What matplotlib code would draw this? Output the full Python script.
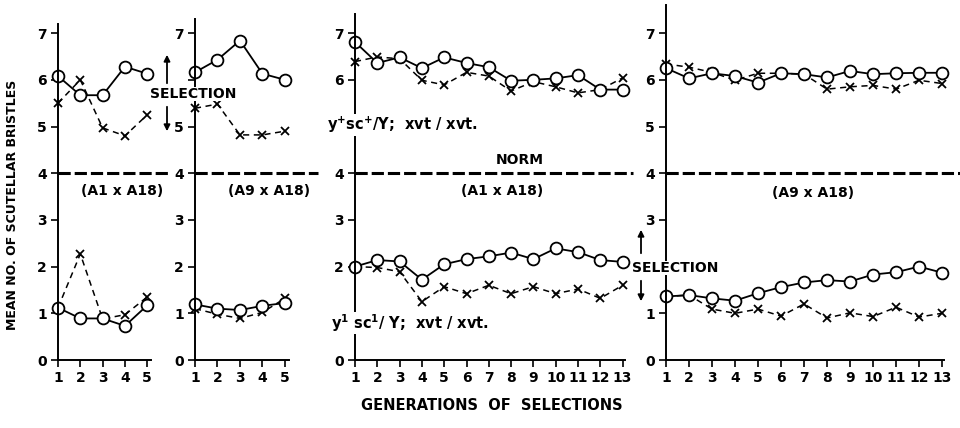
import numpy as np
import matplotlib
matplotlib.use('Agg')
import matplotlib.pyplot as plt

# generations
gen_short = [1, 2, 3, 4, 5]
gen_long = list(range(1, 14))

# panel 1 (A1 x A18), 5 generations
p1_up_o = [6.08, 5.67, 5.67, 6.28, 6.13]
p1_up_x = [5.50, 6.00, 4.97, 4.80, 5.25]
p1_lo_o = [1.12, 0.89, 0.89, 0.73, 1.17]
p1_lo_x = [1.12, 2.27, 0.88, 0.97, 1.35]

# panel 2 (A9 x A18), 5 generations
p2_up_o = [6.16, 6.43, 6.84, 6.13, 6.00]
p2_up_x = [5.39, 5.48, 4.82, 4.82, 4.90]
p2_lo_o = [1.19, 1.10, 1.07, 1.16, 1.22]
p2_lo_x = [1.10, 0.98, 0.89, 1.02, 1.32]

# panel 3 (A1 x A18), 13 generations
p3_up_o = [6.81, 6.36, 6.48, 6.25, 6.48, 6.36, 6.27, 5.98, 6.00, 6.03, 6.10, 5.79, 5.79]
p3_up_x = [6.39, 6.49, 6.45, 5.99, 5.89, 6.16, 6.08, 5.76, 5.96, 5.85, 5.72, 5.79, 6.04]
p3_lo_o = [2.00, 2.14, 2.11, 1.72, 2.05, 2.16, 2.22, 2.30, 2.16, 2.39, 2.31, 2.14, 2.10]
p3_lo_x = [2.00, 1.98, 1.89, 1.25, 1.57, 1.42, 1.60, 1.42, 1.57, 1.42, 1.52, 1.32, 1.60]

# panel 4 (A9 x A18), 13 generations
p4_up_o = [6.25, 6.03, 6.14, 6.08, 5.94, 6.14, 6.12, 6.05, 6.19, 6.12, 6.14, 6.15, 6.15]
p4_up_x = [6.34, 6.27, 6.16, 5.99, 6.14, 6.14, 6.12, 5.80, 5.85, 5.88, 5.80, 5.99, 5.92]
p4_lo_o = [1.36, 1.39, 1.32, 1.27, 1.43, 1.56, 1.66, 1.71, 1.68, 1.83, 1.88, 2.00, 1.87]
p4_lo_x = [1.36, 1.39, 1.09, 1.00, 1.09, 0.94, 1.20, 0.90, 1.01, 0.93, 1.13, 0.92, 1.00]

norm_level = 4
y_ticks = list(range(0, 8))

W, H = 960, 428
fig = plt.figure(figsize=(W / 100, H / 100), dpi=100)
plt.rcParams['font.family'] = 'DejaVu Sans'

y0_px = 360          # pixel row of value 0
unit_px = 46.7       # pixels per bristle
y_top = 7.6


def make_axes(left_px, right_px, xmax, spine_end, spine_top, ticks, line_end, hide=()):
    bottom = (H - y0_px) / H
    height = y_top * unit_px / H
    ax = fig.add_axes([left_px / W, bottom, (right_px - left_px) / W, height])
    ax.set_xlim(1, xmax)
    ax.set_ylim(0, y_top)
    for s in ('top', 'right'):
        ax.spines[s].set_visible(False)
    ax.spines['left'].set_bounds(0, spine_top)
    ax.spines['bottom'].set_bounds(1, spine_end)
    ax.spines['left'].set_linewidth(1.4)
    ax.spines['bottom'].set_linewidth(1.4)
    ax.set_xticks(ticks)
    ax.set_yticks(y_ticks)
    ax.set_yticklabels(['' if t in hide else str(t) for t in y_ticks])
    ax.tick_params(direction='out', length=5, width=1.2, labelsize=10, pad=3)
    for lab in ax.get_xticklabels() + ax.get_yticklabels():
        lab.set_fontweight('bold')
    ax.patch.set_visible(False)
    ax.plot([1, line_end], [norm_level, norm_level], color='black', lw=2.2,
            dashes=(4, 1.3), clip_on=False)
    return ax


def draw_series(ax, x, o_vals, x_vals):
    ax.plot(x, x_vals, color='black', lw=1.1, ls=(0, (4, 3)), marker='x',
            ms=6, mew=1.3, clip_on=False)
    ax.plot(x, o_vals, color='black', lw=1.3, marker='o', ms=8.5, mfc='white',
            mew=1.3, clip_on=False)


ax1 = make_axes(58, 170, 6.02, 5.15, 7.2, gen_short, 5.95)
draw_series(ax1, gen_short, p1_up_o, p1_up_x)
draw_series(ax1, gen_short, p1_lo_o, p1_lo_x)

ax2 = make_axes(195, 320, 6.56, 5.2, 7.3, gen_short, 6.45, hide=(6,))
draw_series(ax2, gen_short, p2_up_o, p2_up_x)
draw_series(ax2, gen_short, p2_lo_o, p2_lo_x)

ax3 = make_axes(355, 640, 13.78, 13.1, 7.4, gen_long, 13.45, hide=(5, 1))
draw_series(ax3, gen_long, p3_up_o, p3_up_x)
draw_series(ax3, gen_long, p3_lo_o, p3_lo_x)

ax4 = make_axes(666, 960, 13.78, 13.1, 7.6, gen_long, 13.78, hide=(2,))
draw_series(ax4, gen_long, p4_up_o, p4_up_x)
draw_series(ax4, gen_long, p4_lo_o, p4_lo_x)


def ftext(x, y, s, bg=False, **kw):
    t = fig.text(x / W, 1 - y / H, s, zorder=10, **kw)
    if bg:
        t.set_bbox(dict(facecolor='white', edgecolor='none', pad=0.3))
    return t


def farrow(x, y_from, y_to):
    fig.add_artist(matplotlib.patches.FancyArrowPatch(
        (x / W, 1 - y_from / H), (x / W, 1 - y_to / H),
        transform=fig.transFigure, arrowstyle='-|>', mutation_scale=9,
        lw=1.3, color='black'))


bold = dict(fontweight='bold', ha='center', va='center')

ftext(13, 205, 'MEAN NO. OF SCUTELLAR BRISTLES', rotation=90, fontsize=9, **bold)
ftext(492, 405, 'GENERATIONS  OF  SELECTIONS', fontsize=10.5, **bold)

ftext(193, 94, 'SELECTION', bg=True, fontsize=10, **bold)
farrow(167, 86, 52)
farrow(167, 104, 134)

ftext(122, 191, '(A1 x A18)', fontsize=10, **bold)
ftext(269, 191, '(A9 x A18)', fontsize=10, **bold)
ftext(520, 160, 'NORM', fontsize=10, **bold)
ftext(502, 191, '(A1 x A18)', fontsize=10, **bold)
ftext(813, 193, '(A9 x A18)', fontsize=10, **bold)

ftext(327, 125, r'y$^{\mathbf{+}}$sc$^{\mathbf{+}}$/Y;  xvt / xvt.', bg=True,
      fontsize=10.5, fontweight='bold', ha='left', va='center')
ftext(331, 323, r'y$^{\mathbf{1}}$ sc$^{\mathbf{1}}$/ Y;  xvt / xvt.', bg=True,
      fontsize=10.5, fontweight='bold', ha='left', va='center')

ftext(675, 268, 'SELECTION', bg=True, fontsize=10, **bold)
farrow(641, 256, 227)
farrow(641, 278, 304)

fig.savefig('out.png', dpi=100)
